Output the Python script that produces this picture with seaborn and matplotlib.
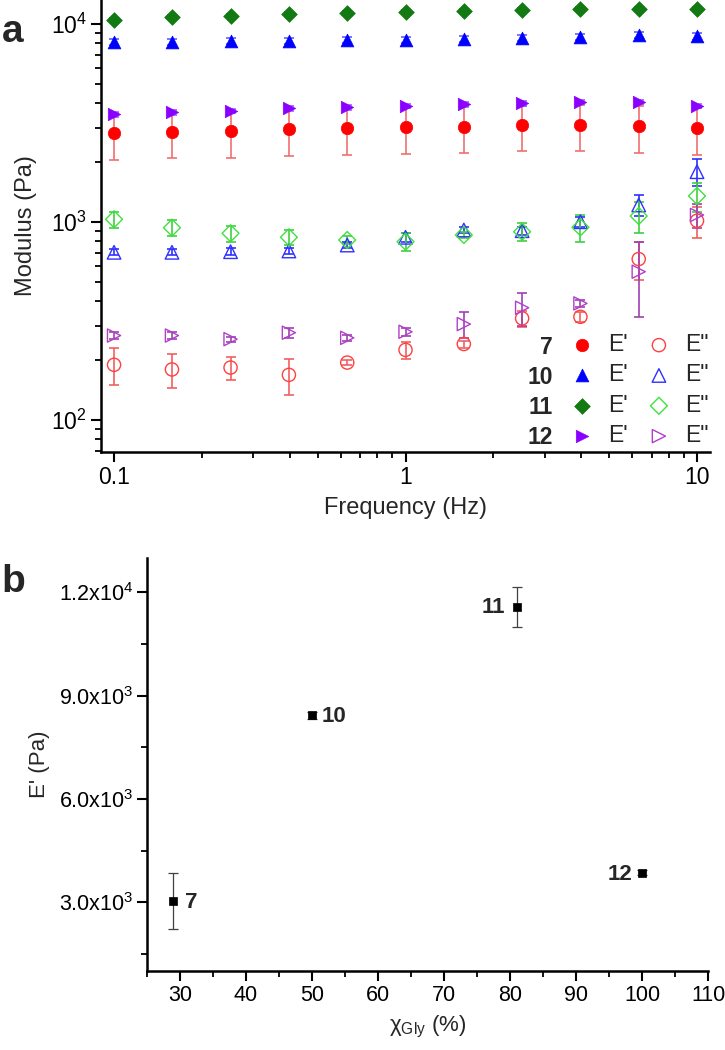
import matplotlib
matplotlib.use("Agg")
import matplotlib.pyplot as plt
from matplotlib.ticker import LogLocator, FixedLocator, FuncFormatter, NullFormatter, MultipleLocator
import numpy as np
import pandas as pd
import seaborn as sns

# ---- panel a: frequency sweep ----
freq = [0.1, 0.158, 0.251, 0.398, 0.631, 1.0, 1.585, 2.512, 3.981, 6.310, 10.0]

e1_7 = [2805, 2858, 2890, 2939, 2973, 3008, 3029, 3079, 3090, 3054, 2973]
e1_7_err = [750, 760, 777, 785, 794, 803, 807, 795, 798, 814, 794]
e2_7 = [190, 180, 184, 169, 195, 226, 242, 326, 332, 650, 1015]
e2_7_err = [40, 35, 25, 35, 5, 22, 10, 30, 20, 140, 180]

e1_10 = [8140, 8140, 8207, 8235, 8302, 8302, 8370, 8470, 8630, 8800, 8700]
e1_10_err = [300, 300, 300, 300, 300, 300, 300, 300, 300, 300, 350]
e2_10 = [703, 703, 708, 714, 765, 837, 911, 904, 1003, 1219, 1795]
e2_10_err = [25, 25, 30, 25, 30, 40, 35, 40, 60, 150, 280]

e1_11 = [10476, 10886, 11000, 11233, 11400, 11500, 11640, 11730, 11870, 11950, 11870]
e1_11_err = [250, 250, 250, 250, 250, 250, 250, 250, 250, 250, 250]
e2_11 = [1032, 936, 877, 837, 811, 795, 860, 893, 940, 1072, 1353]
e2_11_err = [95, 85, 80, 70, 35, 85, 30, 90, 150, 190, 230]

e1_12 = [3499, 3581, 3636, 3751, 3795, 3853, 3930, 3976, 4022, 4022, 3853]
e1_12_err = [100, 100, 100, 100, 100, 100, 100, 100, 100, 100, 100]
e2_12 = [267, 267, 256, 276, 260, 279, 305, 369, 388, 561, 1085]
e2_12_err = [10, 10, 8, 15, 8, 12, 45, 70, 15, 230, 150]

samples = ["7", "10", "11", "12"]

# ---- panel b: E' vs glycerol fraction ----
chi_gly = [29, 50, 81, 100]
e_mod = [3040, 8430, 11590, 3860]
e_mod_err = [820, 110, 580, 70]

sns.set_style("ticks")
plt.rcParams["font.family"] = ["Liberation Sans", "DejaVu Sans"]
plt.rcParams["axes.edgecolor"] = "black"
plt.rcParams["xtick.color"] = "black"
plt.rcParams["ytick.color"] = "black"

fig = plt.figure(figsize=(7.25, 10.5), dpi=100)
ax1 = fig.add_axes([0.1393, 0.5695, 0.8400, 0.4305])
ax2 = fig.add_axes([0.2028, 0.0752, 0.7738, 0.3933])

# series: (E' values, err, E'' values, err, marker, filled color, err color, open color, open err color)
series = [
    (e1_7, e1_7_err, e2_7, e2_7_err, "o", "#ff0000", "#f07070", "#ff4040", "#f06060"),
    (e1_10, e1_10_err, e2_10, e2_10_err, "^", "#0000ff", "#6060ff", "#3030ff", "#3030ff"),
    (e1_11, e1_11_err, e2_11, e2_11_err, "D", "#137a13", "#137a13", "#40e040", "#40d040"),
    (e1_12, e1_12_err, e2_12, e2_12_err, ">", "#8a00ff", "#a060ff", "#b040c8", "#a040b0"),
]
sizes = {"o": 80, "^": 85, "D": 64, ">": 80}

filled_handles, open_handles = [], []
for e1, e1e, e2, e2e, mk, fc, ec, oc, oec in series:
    ax1.errorbar(freq, e1, yerr=e1e, fmt="none", ecolor=ec, elinewidth=1.2,
                 capsize=3.5, capthick=1.2, zorder=1)
    ax1.errorbar(freq, e2, yerr=e2e, fmt="none", ecolor=oec, elinewidth=1.2,
                 capsize=3.5, capthick=1.2, zorder=1)
for e1, e1e, e2, e2e, mk, fc, ec, oc, oec in series:
    df = pd.DataFrame({"f": freq, "e1": e1, "e2": e2})
    sns.scatterplot(data=df, x="f", y="e1", marker=mk, s=sizes[mk], color=fc,
                    edgecolor=fc, linewidth=0.5, legend=False, ax=ax1, zorder=3, label="E'")
    filled_handles.append(ax1.collections[-1])
    sns.scatterplot(data=df, x="f", y="e2", marker=mk, s=sizes[mk] + 10, facecolor="none",
                    edgecolor=oc, linewidth=1.0, legend=False, ax=ax1, zorder=3, label='E"')
    open_handles.append(ax1.collections[-1])

ax1.set_xscale("log")
ax1.set_yscale("log")
ax1.set_xlim(0.0902, 11.08)
ax1.set_ylim(68.9, 13220)
ax1.xaxis.set_major_locator(FixedLocator([0.1, 1, 10]))
ax1.xaxis.set_major_formatter(FuncFormatter(lambda v, p: "%g" % v))
ax1.xaxis.set_minor_locator(LogLocator(base=10, subs=np.arange(2, 10)))
ax1.xaxis.set_minor_formatter(NullFormatter())
ax1.yaxis.set_major_locator(LogLocator(base=10))
ax1.yaxis.set_minor_locator(LogLocator(base=10, subs=np.arange(2, 10)))
ax1.yaxis.set_minor_formatter(NullFormatter())
ax1.set_xlabel("Frequency (Hz)", fontsize=17, labelpad=6)
ax1.set_ylabel("Modulus (Pa)", fontsize=17, labelpad=10)

leg = ax1.legend(filled_handles + open_handles, ["E'"] * 4 + ['E"'] * 4, ncol=2,
                 loc="upper left", bbox_to_anchor=(0.771, 0.263), frameon=False,
                 fontsize=16.5, borderpad=0, borderaxespad=0, handlelength=1.0,
                 handletextpad=0.65, columnspacing=0.85, labelspacing=0.32)
for i, name in enumerate(samples):
    ax1.text(0.742, 0.232 - i * 0.0664, name, transform=ax1.transAxes, ha="right",
             va="center", fontsize=16.5, fontweight="bold")

# ---- panel b ----
ax2.errorbar(chi_gly, e_mod, yerr=e_mod_err, fmt="none", ecolor="#404040",
             elinewidth=0.9, capsize=3.5, capthick=0.9, zorder=1)
dfb = pd.DataFrame({"chi": chi_gly, "E": e_mod, "name": samples})
sns.scatterplot(data=dfb, x="chi", y="E", marker="s", s=36, color="black",
                edgecolor="black", linewidth=0.5, legend=False, ax=ax2, zorder=3)
offsets = {"7": (8, "left"), "10": (7, "left"), "11": (-8, "right"), "12": (-7, "right")}
for x, y, name in zip(chi_gly, e_mod, samples):
    dx, ha = offsets[name]
    ax2.annotate(name, (x, y), xytext=(dx, -1), textcoords="offset points", ha=ha,
                 va="center", fontsize=16, fontweight="bold")

ax2.set_xlim(25, 110)
ax2.set_ylim(1000, 13000)
ax2.xaxis.set_major_locator(MultipleLocator(10))
ax2.xaxis.set_minor_locator(MultipleLocator(5))
ax2.yaxis.set_major_locator(FixedLocator([3000, 6000, 9000, 12000]))
ax2.yaxis.set_minor_locator(FixedLocator([1500, 4500, 7500, 10500]))


def sci(v, p):
    e = int(np.floor(np.log10(v)))
    return r"$\mathregular{%.1fx10^{%d}}$" % (v / 10 ** e, e)


ax2.yaxis.set_major_formatter(FuncFormatter(sci))
ax2.set_xlabel(r"χ$\mathregular{_{Gly}}$ (%)", fontsize=16, labelpad=6)
ax2.set_ylabel("E' (Pa)", fontsize=16, labelpad=6)

for ax in (ax1, ax2):
    sns.despine(ax=ax)
    for side in ("left", "bottom"):
        ax.spines[side].set_linewidth(1.8)
    ax.tick_params(which="major", length=7, width=1.5, labelsize=16.5 if ax is ax1 else 15.5, pad=3)
    ax.tick_params(which="minor", length=4, width=1.3)

fig.text(0.002, 0.96, "a", fontsize=28, fontweight="bold")
fig.text(0.002, 0.4362, "b", fontsize=28, fontweight="bold")

fig.savefig("out.png", dpi=100)
